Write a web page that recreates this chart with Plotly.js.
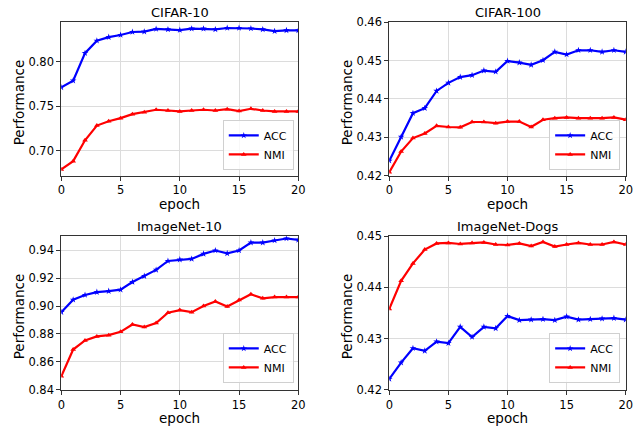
<!DOCTYPE html>
<html>
<head>
<meta charset="utf-8">
<script src="https://cdn.plot.ly/plotly-3.0.1.min.js"></script>
<style>html,body{margin:0;padding:0;background:#fff;}#chart{width:640px;height:426px;}</style>
</head>
<body>
<div id="chart"></div>
<script>
const epochs = [0,1,2,3,4,5,6,7,8,9,10,11,12,13,14,15,16,17,18,19,20];

const titles = ["CIFAR-10", "CIFAR-100", "ImageNet-10", "ImageNet-Dogs"];

const cifar10Acc = [0.771,0.7786,0.8094,0.8233,0.8274,0.8297,0.8331,0.8335,0.8365,0.836,0.8353,0.8368,0.8368,0.836,0.8376,0.8376,0.837,0.836,0.834,0.835,0.835];
const cifar10Nmi = [0.679,0.6883,0.7117,0.7282,0.7331,0.7365,0.741,0.7432,0.7459,0.7451,0.744,0.7451,0.7459,0.7451,0.7466,0.7444,0.747,0.7451,0.744,0.744,0.744];

const cifar100Acc = [0.4239,0.4301,0.4363,0.4376,0.4421,0.4442,0.4457,0.4462,0.4474,0.4471,0.4499,0.4495,0.4489,0.4501,0.4523,0.4516,0.4527,0.4527,0.4523,0.4527,0.4523];
const cifar100Nmi = [0.4209,0.4263,0.4298,0.431,0.433,0.4327,0.4326,0.434,0.434,0.4337,0.4341,0.4341,0.4327,0.4346,0.435,0.4352,0.435,0.435,0.435,0.4352,0.4346];

const imagenet10Acc = [0.8956,0.9045,0.9079,0.91,0.9107,0.9117,0.9172,0.9215,0.9259,0.9323,0.9333,0.9338,0.9374,0.9398,0.9378,0.9398,0.9455,0.9455,0.947,0.9484,0.9474];
const imagenet10Nmi = [0.8496,0.8688,0.8753,0.8782,0.8791,0.8815,0.8868,0.8849,0.8878,0.8952,0.8971,0.8956,0.9,0.9033,0.8997,0.9043,0.9084,0.9055,0.9064,0.9064,0.9064];

const dogsAcc = [0.4221,0.4253,0.4281,0.4276,0.4294,0.4291,0.4323,0.4303,0.4323,0.432,0.4344,0.4336,0.4337,0.4338,0.4336,0.4343,0.4337,0.4338,0.4339,0.434,0.4337];
const dogsNmi = [0.4358,0.4413,0.4447,0.4474,0.4486,0.4487,0.4485,0.4487,0.4488,0.4484,0.4483,0.4486,0.4481,0.4489,0.448,0.4484,0.4487,0.4484,0.4484,0.4489,0.4484];

const yRanges = [[0.672,0.844],[0.42,0.46],[0.84,0.95],[0.42,0.45]];
const yTicks = [[0.70,0.75,0.80],[0.42,0.43,0.44,0.45,0.46],[0.84,0.86,0.88,0.90,0.92,0.94],[0.42,0.43,0.44,0.45]];
const xTicks = [0,5,10,15,20];

const accSeries = [cifar10Acc, cifar100Acc, imagenet10Acc, dogsAcc];
const nmiSeries = [cifar10Nmi, cifar100Nmi, imagenet10Nmi, dogsNmi];

const FONT = "DejaVu Sans";
const W = 640, H = 426;
const xDomains = [[0.0958,0.4661],[0.6083,0.9777],[0.0958,0.4661],[0.6083,0.9777]];
const yDomains = [[0.5876,0.9477],[0.5876,0.9477],[0.0852,0.4453],[0.0852,0.4453]];
const legendPos = [[0.459,0.601],[0.969,0.601],[0.459,0.101],[0.969,0.101]];

const traces = [];
const layout = {
  width: W, height: H,
  margin: {l:0, r:0, t:0, b:0},
  paper_bgcolor: "#fff", plot_bgcolor: "#fff",
  font: {family: FONT, color: "#000"},
  showlegend: true,
  annotations: []
};

for (let i = 0; i < 4; i++) {
  const n = i === 0 ? "" : String(i + 1);
  const lg = "legend" + n;
  traces.push({
    x: epochs, y: accSeries[i], type: "scatter", mode: "lines+markers", name: "ACC",
    xaxis: "x" + n, yaxis: "y" + n, legend: lg,
    line: {color: "#0000ff", width: 2.2},
    marker: {symbol: "star", size: 5, color: "#0000ff"}
  });
  traces.push({
    x: epochs, y: nmiSeries[i], type: "scatter", mode: "lines+markers", name: "NMI",
    xaxis: "x" + n, yaxis: "y" + n, legend: lg,
    line: {color: "#ff0000", width: 2.2},
    marker: {symbol: "triangle-up", size: 5, color: "#ff0000"}
  });
  const axCommon = {
    showline: true, linecolor: "#333", linewidth: 1, mirror: true,
    ticks: "outside", ticklen: 4, tickcolor: "#333", tickwidth: 1,
    showgrid: true, gridcolor: "#dcdcdc", gridwidth: 1,
    zeroline: false, automargin: false,
    tickfont: {family: FONT, size: 11.5, color: "#000"}
  };
  layout["xaxis" + n] = Object.assign({}, axCommon, {
    domain: xDomains[i], anchor: "y" + n, range: [0, 20],
    tickvals: xTicks, ticktext: xTicks.map(String)
  });
  layout["yaxis" + n] = Object.assign({}, axCommon, {
    domain: yDomains[i], anchor: "x" + n, range: yRanges[i],
    tickvals: yTicks[i], ticktext: yTicks[i].map(v => v.toFixed(2))
  });
  layout[lg] = {
    x: legendPos[i][0], y: legendPos[i][1], xanchor: "right", yanchor: "bottom",
    xref: "paper", yref: "paper",
    bgcolor: "rgba(255,255,255,0.8)", bordercolor: "#d0d0d0", borderwidth: 1,
    font: {family: FONT, size: 11, color: "#000"},
    itemwidth: 30, tracegroupgap: 0
  };
  const cx = (xDomains[i][0] + xDomains[i][1]) / 2;
  const cy = (yDomains[i][0] + yDomains[i][1]) / 2;
  layout.annotations.push({
    text: titles[i], showarrow: false, xref: "paper", yref: "paper",
    x: cx, y: yDomains[i][1], xanchor: "center", yanchor: "bottom", yshift: 0,
    font: {family: FONT, size: 13, color: "#000"}
  });
  layout.annotations.push({
    text: "epoch", showarrow: false, xref: "paper", yref: "paper",
    x: cx, y: yDomains[i][0], xanchor: "center", yanchor: "middle", yshift: -28.5,
    font: {family: FONT, size: 13.5, color: "#000"}
  });
  layout.annotations.push({
    text: "Performance", showarrow: false, xref: "paper", yref: "paper",
    x: xDomains[i][0], y: cy, xanchor: "center", yanchor: "middle", xshift: -42, yshift: -3,
    textangle: -90,
    font: {family: FONT, size: 13.5, color: "#000"}
  });
}

Plotly.newPlot("chart", traces, layout, {displayModeBar: false, staticPlot: true});
</script>
</body>
</html>
